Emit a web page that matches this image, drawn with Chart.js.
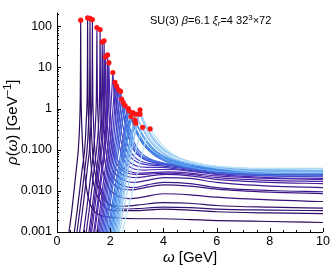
<!DOCTYPE html>
<html>
<head>
<meta charset="utf-8">
<script src="https://cdn.jsdelivr.net/npm/chart.js@4.4.1/dist/chart.umd.min.js"></script>
<style>
  html, body { margin: 0; padding: 0; background: #fff; }
  #wrap { width: 332px; height: 271px; }
</style>
</head>
<body>
<div id="wrap"><canvas id="grafico" width="332" height="271"></canvas></div>
<script>
// posição e altura dos picos (pontos vermelhos)
const peakOmega = [0.89, 1.15, 1.24, 1.33, 1.50, 1.62, 1.70, 1.77, 1.82, 1.90,
  1.95, 2.10, 2.18, 2.24, 2.31, 2.39, 2.43, 2.49, 2.56, 2.68,
  2.71, 2.78, 2.85, 2.93, 2.96, 2.97, 3.12, 3.12, 3.22, 3.50];
const peakRho = [140, 160, 155, 145, 93, 83, 41, 44, 18, 20,
  13, 7.5, 4.3, 3.5, 2.9, 2.6, 1.7, 1.4, 1.17, 1.0,
  0.87, 0.64, 0.79, 0.52, 0.44, 0.73, 0.73, 0.93, 0.35, 0.32];

// lado esquerdo de cada curva (antes do pico), pares [omega, rho]
const leftSides = [
  [[.45,.001],[.55,.003],[.64,.01],[.73,.035],[.8,.1],[.85,.4],[.875,2],[.885,15]],
  [[.65,.001],[.75,.003],[.85,.01],[.95,.035],[1.05,.12],[1.1,.5],[1.135,2.5],[1.145,18]],
  [[.75,.001],[.85,.003],[.95,.01],[1.05,.035],[1.14,.12],[1.19,.5],[1.225,2.5],[1.235,18]],
  [[.85,.001],[.95,.003],[1.05,.01],[1.14,.035],[1.23,.12],[1.28,.5],[1.315,2.5],[1.325,18]],
  [[1,.001],[1.1,.003],[1.2,.01],[1.3,.035],[1.39,.12],[1.45,.5],[1.482,2.5],[1.493,15]],
  [[1.1,.001],[1.2,.003],[1.3,.01],[1.4,.035],[1.5,.12],[1.57,.5],[1.602,2.5],[1.613,14]],
  [[1.2,.001],[1.3,.003],[1.4,.01],[1.5,.035],[1.58,.12],[1.65,.5],[1.68,2.5],[1.692,10]],
  [[1.25,.001],[1.35,.003],[1.45,.01],[1.55,.035],[1.65,.13],[1.72,.55],[1.75,2.7],[1.762,11]],
  [[1.3,.001],[1.4,.003],[1.5,.01],[1.6,.035],[1.7,.13],[1.77,.6],[1.8,3],[1.812,9]],
  [[1.38,.001],[1.48,.003],[1.58,.01],[1.68,.035],[1.78,.13],[1.85,.6],[1.88,3],[1.892,9.5]],
  [[1.42,.001],[1.52,.003],[1.62,.01],[1.72,.035],[1.82,.13],[1.89,.6],[1.925,2.8],[1.94,7]],
  [[1.5,.001],[1.6,.003],[1.7,.01],[1.8,.03],[1.9,.1],[1.98,.4],[2.04,1.6],[2.08,4.5]],
  [[1.55,.001],[1.65,.003],[1.75,.009],[1.85,.027],[1.95,.08],[2.04,.3],[2.11,1.1],[2.16,3]],
  [[1.6,.001],[1.7,.003],[1.8,.009],[1.9,.026],[2,.075],[2.1,.28],[2.17,1],[2.22,2.6]],
  [[1.65,.001],[1.75,.003],[1.85,.009],[1.95,.025],[2.05,.07],[2.15,.24],[2.23,.9],[2.29,2.2]],
  [[1.7,.001],[1.8,.003],[1.9,.009],[2,.024],[2.1,.065],[2.2,.2],[2.3,.8],[2.37,2]],
  [[1.75,.001],[1.85,.003],[1.95,.008],[2.05,.022],[2.15,.06],[2.25,.18],[2.34,.6],[2.41,1.35]],
  [[1.8,.001],[1.9,.003],[2,.008],[2.1,.021],[2.2,.055],[2.3,.16],[2.4,.55],[2.47,1.15]],
  [[1.85,.001],[1.95,.003],[2.05,.008],[2.15,.02],[2.25,.05],[2.35,.14],[2.45,.45],[2.53,.95]],
  [[1.9,.001],[2,.0025],[2.1,.006],[2.2,.015],[2.3,.035],[2.4,.085],[2.5,.22],[2.6,.55]],
  [[1.95,.001],[2.05,.0025],[2.15,.006],[2.25,.014],[2.35,.033],[2.45,.08],[2.55,.2],[2.64,.5]],
  [[2,.001],[2.1,.0025],[2.2,.006],[2.3,.014],[2.4,.032],[2.5,.075],[2.6,.17],[2.7,.4]],
  [[2.05,.001],[2.15,.0025],[2.25,.006],[2.35,.014],[2.45,.032],[2.55,.075],[2.65,.18],[2.76,.45]],
  [[2.1,.001],[2.2,.0024],[2.3,.0055],[2.4,.012],[2.5,.027],[2.6,.06],[2.7,.13],[2.82,.3]],
  [[2.15,.001],[2.25,.0024],[2.35,.0055],[2.45,.012],[2.55,.026],[2.65,.055],[2.75,.12],[2.86,.27]],
  [[2.2,.001],[2.3,.0026],[2.4,.0065],[2.5,.016],[2.6,.038],[2.7,.09],[2.8,.21],[2.89,.45]],
  [[2.25,.001],[2.35,.0025],[2.45,.006],[2.55,.014],[2.65,.032],[2.75,.07],[2.87,.17],[3,.4]],
  [[2.3,.001],[2.4,.0027],[2.5,.007],[2.6,.017],[2.7,.04],[2.8,.09],[2.92,.22],[3.03,.52]],
  [[2.35,.001],[2.45,.0023],[2.55,.005],[2.65,.011],[2.75,.023],[2.85,.047],[2.97,.1],[3.1,.21]],
  [[2.45,.001],[2.6,.0025],[2.75,.006],[2.9,.014],[3.05,.032],[3.18,.07],[3.3,.14],[3.41,.24]]
];

// lado direito de cada curva (depois do pico) até omega = 10
const rightSides = [
  [[.895,15],[.905,2],[.93,.4],[.98,.08],[1.06,.02],[1.2,.006],[1.5,.0028],[2,.0023],[3,.0021],[4,.0021],[5,.002],[6,.0019],[8,.0018],[10,.0017]],
  [[1.155,18],[1.165,2.5],[1.19,.5],[1.24,.1],[1.32,.025],[1.5,.008],[1.8,.004],[2.2,.0033],[3,.0033],[4,.0036],[5,.0034],[6,.0031],[8,.0029],[10,.0028]],
  [[1.245,18],[1.255,2.5],[1.28,.5],[1.33,.1],[1.42,.03],[1.6,.01],[1.9,.005],[2.4,.0042],[3,.0045],[4,.0052],[5,.005],[6,.0044],[8,.004],[10,.0038]],
  [[1.335,18],[1.345,2.5],[1.37,.5],[1.42,.1],[1.5,.03],[1.7,.009],[2,.0045],[2.5,.0036],[3,.0037],[4,.004],[5,.0039],[6,.0036],[8,.0034],[10,.0033]],
  [[1.507,15],[1.518,2.5],[1.55,.5],[1.61,.1],[1.7,.035],[1.9,.013],[2.2,.008],[2.7,.0065],[3.2,.007],[4,.0085],[5,.008],[6,.007],[8,.006],[10,.0055]],
  [[1.627,14],[1.638,2.5],[1.67,.5],[1.73,.12],[1.82,.045],[2,.02],[2.3,.012],[2.8,.0105],[3.3,.012],[4,.014],[5,.013],[6,.011],[8,.0093],[10,.0086]],
  [[1.708,10],[1.72,2.5],[1.75,.6],[1.81,.15],[1.9,.05],[2.05,.025],[2.4,.014],[2.9,.012],[3.4,.014],[4,.016],[5,.015],[6,.012],[8,.0102],[10,.0095]],
  [[1.778,11],[1.79,2.7],[1.82,.65],[1.88,.16],[1.97,.06],[2.1,.032],[2.4,.02],[2.9,.016],[3.4,.018],[4,.021],[5,.02],[6,.016],[8,.013],[10,.012]],
  [[1.828,9],[1.84,3],[1.87,.8],[1.93,.2],[2.02,.075],[2.2,.035],[2.5,.024],[3,.021],[3.5,.023],[4.1,.025],[5,.023],[6,.019],[8,.016],[10,.015]],
  [[1.908,9.5],[1.92,3],[1.95,.8],[2.01,.2],[2.1,.08],[2.3,.04],[2.6,.028],[3.1,.025],[3.6,.026],[4.2,.027],[5,.025],[6,.021],[8,.018],[10,.017]],
  [[1.96,7],[1.975,2.8],[2.01,.8],[2.07,.22],[2.16,.09],[2.35,.045],[2.7,.03],[3.2,.027],[3.7,.028],[4.2,.029],[5,.027],[6,.023],[8,.02],[10,.019]],
  [[2.12,4.5],[2.16,1.6],[2.22,.5],[2.3,.18],[2.42,.08],[2.6,.045],[2.9,.034],[3.3,.032],[3.8,.033],[4.3,.033],[5,.03],[6,.025],[8,.021],[10,.02]],
  [[2.2,3],[2.25,1.1],[2.32,.4],[2.4,.17],[2.52,.085],[2.7,.052],[3,.04],[3.4,.037],[3.9,.037],[4.5,.034],[5.2,.03],[6,.026],[8,.023],[10,.022]],
  [[2.26,2.6],[2.31,1],[2.38,.42],[2.47,.19],[2.6,.1],[2.8,.062],[3.1,.047],[3.5,.042],[4,.04],[4.6,.036],[5.3,.031],[6.2,.027],[8,.025],[10,.024]],
  [[2.33,2.2],[2.39,.9],[2.47,.4],[2.57,.2],[2.7,.11],[2.9,.068],[3.2,.051],[3.6,.045],[4.1,.042],[4.7,.037],[5.4,.032],[6.4,.027],[8,.026],[10,.025]],
  [[2.41,2],[2.47,.88],[2.56,.42],[2.67,.22],[2.8,.125],[3,.078],[3.3,.057],[3.7,.048],[4.2,.044],[4.8,.039],[5.5,.034],[6.5,.029],[8,.028],[10,.028]],
  [[2.45,1.35],[2.52,.65],[2.62,.32],[2.74,.17],[2.9,.1],[3.1,.07],[3.4,.055],[3.8,.047],[4.3,.043],[5,.038],[5.8,.032],[7,.027],[8.5,.026],[10,.026]],
  [[2.51,1.15],[2.58,.6],[2.68,.31],[2.8,.17],[2.95,.105],[3.15,.073],[3.5,.056],[4,.047],[4.6,.041],[5.3,.036],[6.2,.032],[7.5,.03],[8.5,.03],[10,.03]],
  [[2.59,.95],[2.66,.55],[2.76,.29],[2.88,.16],[3.05,.1],[3.3,.07],[3.6,.056],[4,.047],[4.6,.039],[5.3,.032],[6.2,.027],[7.5,.024],[8.5,.023],[10,.023]],
  [[2.76,.65],[2.86,.42],[2.98,.27],[3.15,.17],[3.4,.11],[3.7,.075],[4.1,.055],[4.7,.043],[5.4,.037],[6.2,.033],[7.2,.031],[8.5,.031],[10,.031]],
  [[2.79,.56],[2.9,.36],[3.02,.23],[3.2,.145],[3.45,.095],[3.75,.066],[4.15,.05],[4.7,.04],[5.4,.034],[6.2,.03],[7.2,.028],[8.5,.027],[10,.027]],
  [[2.87,.45],[2.98,.31],[3.12,.21],[3.3,.14],[3.55,.095],[3.85,.07],[4.25,.054],[4.8,.044],[5.5,.038],[6.3,.035],[7.3,.033],[8.6,.033],[10,.033]],
  [[2.94,.52],[3.05,.35],[3.19,.23],[3.38,.15],[3.62,.1],[3.92,.072],[4.3,.055],[4.9,.043],[5.6,.036],[6.4,.032],[7.4,.03],[8.6,.029],[10,.029]],
  [[3.03,.38],[3.15,.28],[3.3,.19],[3.5,.13],[3.75,.09],[4.05,.068],[4.45,.054],[5,.045],[5.7,.039],[6.5,.036],[7.5,.034],[8.7,.034],[10,.034]],
  [[3.06,.33],[3.18,.24],[3.33,.165],[3.53,.11],[3.78,.078],[4.08,.058],[4.5,.046],[5.05,.038],[5.7,.032],[6.5,.029],[7.5,.027],[8.7,.026],[10,.026]],
  [[3.07,.5],[3.19,.35],[3.34,.23],[3.54,.15],[3.8,.1],[4.1,.072],[4.5,.056],[5.1,.045],[5.8,.037],[6.6,.033],[7.6,.03],[8.7,.03],[10,.03]],
  [[3.22,.5],[3.34,.35],[3.5,.23],[3.7,.155],[3.95,.105],[4.25,.077],[4.65,.06],[5.2,.048],[5.9,.04],[6.7,.035],[7.7,.032],[8.8,.032],[10,.032]],
  [[3.22,.6],[3.34,.4],[3.5,.26],[3.7,.17],[3.95,.112],[4.25,.08],[4.65,.06],[5.2,.046],[5.9,.037],[6.7,.032],[7.7,.029],[8.8,.028],[10,.028]],
  [[3.34,.27],[3.48,.2],[3.65,.145],[3.85,.105],[4.1,.078],[4.4,.062],[4.8,.051],[5.3,.044],[6,.039],[6.8,.036],[7.8,.035],[8.9,.035],[10,.035]],
  [[3.62,.25],[3.76,.185],[3.93,.135],[4.13,.1],[4.38,.076],[4.7,.06],[5.1,.05],[5.6,.043],[6.3,.038],[7.2,.035],[8.5,.034],[10,.033]]
];

const xTicks = [0, 2, 4, 6, 8, 10];
const yTicks = [0.001, 0.01, 0.1, 1, 10, 100];
const yTickLabels = ['0.001', '0.010', '0.100', '1', '10', '100'];

const FONTE = '"Liberation Sans", Arial, sans-serif';

// degradê roxo escuro -> azul claro
const paradas = [
  [0.00, [42, 10, 94]],
  [0.35, [76, 34, 170]],
  [0.55, [64, 84, 214]],
  [0.75, [62, 138, 232]],
  [1.00, [186, 226, 248]]
];
function corDaCurva(t) {
  for (let k = 1; k < paradas.length; k++) {
    if (t <= paradas[k][0]) {
      const [t0, c0] = paradas[k - 1];
      const [t1, c1] = paradas[k];
      const f = (t - t0) / (t1 - t0);
      const c = c0.map((v, j) => Math.round(v + (c1[j] - v) * f));
      return `rgb(${c[0]},${c[1]},${c[2]})`;
    }
  }
  return 'rgb(186,226,248)';
}

// desenha um texto com trechos em itálico / sobrescrito / subscrito
function textoRico(ctx, partes, x, y, tam, alinhamento) {
  const fonteDe = p => `${p.it ? 'italic ' : ''}${p.sup || p.sub ? Math.round(tam * 0.7) : tam}px ${FONTE}`;
  let largura = 0;
  partes.forEach(p => { ctx.font = fonteDe(p); largura += ctx.measureText(p.t).width; });
  let cx = alinhamento === 'center' ? x - largura / 2 : x;
  ctx.textAlign = 'left';
  ctx.textBaseline = 'alphabetic';
  partes.forEach(p => {
    ctx.font = fonteDe(p);
    const dy = p.sup ? -tam * 0.38 : (p.sub ? tam * 0.22 : 0);
    ctx.fillText(p.t, cx, y + dy);
    cx += ctx.measureText(p.t).width;
  });
}

// eixos, marcas internas e textos
const moldura = {
  id: 'moldura',
  afterDatasetsDraw(chart) {
    const { ctx, chartArea: a, scales } = chart;
    const sx = scales.x, sy = scales.y;
    ctx.save();
    ctx.strokeStyle = '#000';
    ctx.lineWidth = 1;
    ctx.beginPath();
    ctx.moveTo(a.left + 0.5, a.top);
    ctx.lineTo(a.left + 0.5, a.bottom + 0.5);
    ctx.lineTo(a.right, a.bottom + 0.5);
    ctx.stroke();

    ctx.beginPath();
    for (let v = 0; v <= 10.001; v += 0.5) {
      const px = Math.round(sx.getPixelForValue(v)) + 0.5;
      const len = Math.abs(v % 2) < 1e-6 ? 4 : 2;
      ctx.moveTo(px, a.bottom);
      ctx.lineTo(px, a.bottom - len);
    }
    for (let e = -3; e <= 2; e++) {
      for (let m = 1; m <= 9; m++) {
        const v = m * Math.pow(10, e);
        if (v > sy.max) continue;
        const py = Math.round(sy.getPixelForValue(v)) + 0.5;
        const len = m === 1 ? 4 : 2;
        ctx.moveTo(a.left, py);
        ctx.lineTo(a.left + len, py);
      }
    }
    ctx.stroke();

    ctx.fillStyle = '#000';
    textoRico(ctx, [{ t: 'ω', it: true }, { t: ' [GeV]' }], (a.left + a.right) / 2, 262, 15, 'center');

    ctx.save();
    ctx.translate(17, (a.top + a.bottom) / 2);
    ctx.rotate(-Math.PI / 2);
    textoRico(ctx, [{ t: 'ρ', it: true }, { t: '(' }, { t: 'ω', it: true }, { t: ') [GeV' }, { t: '−1', sup: true }, { t: ']' }], 0, 0, 15, 'center');
    ctx.restore();

    textoRico(ctx, [
      { t: 'SU(3) ' }, { t: 'β', it: true }, { t: '=6.1 ' }, { t: 'ξ', it: true }, { t: 'r', it: true, sub: true },
      { t: '=4 32' }, { t: '3', sup: true }, { t: '×72' }
    ], 150, 24, 11, 'left');
    ctx.restore();
  }
};

const datasets = peakOmega.map((m, i) => {
  const pontos = leftSides[i].concat([[m, peakRho[i]]], rightSides[i]);
  return {
    data: pontos.map(p => ({ x: p[0], y: p[1] })),
    borderColor: corDaCurva(i / (peakOmega.length - 1)),
    borderWidth: 1.2,
    pointRadius: 0,
    fill: false,
    cubicInterpolationMode: 'monotone',
    order: peakOmega.length - i
  };
});

// pontos vermelhos nos picos
datasets.push({
  data: peakOmega.map((m, i) => ({ x: m, y: peakRho[i] })),
  showLine: false,
  pointRadius: 2.6,
  pointBackgroundColor: '#ff1414',
  pointBorderWidth: 0,
  order: -1
});

new Chart(document.getElementById('grafico'), {
  type: 'line',
  data: { datasets },
  options: {
    responsive: false,
    animation: false,
    layout: { padding: { top: 4, right: 8, left: 0, bottom: 0 } },
    plugins: { legend: { display: false }, tooltip: { enabled: false } },
    scales: {
      x: {
        type: 'linear',
        min: 0,
        max: 10,
        afterBuildTicks: s => { s.ticks = xTicks.map(v => ({ value: v })); },
        afterFit: s => { s.height = 39; },
        grid: { display: false, drawTicks: false },
        border: { display: false },
        ticks: { color: '#000', font: { size: 12.5, family: FONTE }, padding: 2, maxRotation: 0, autoSkip: false }
      },
      y: {
        type: 'logarithmic',
        min: 0.001,
        max: 215,
        afterBuildTicks: s => { s.ticks = yTicks.map(v => ({ value: v })); },
        afterFit: s => { s.width = 57; },
        grid: { display: false, drawTicks: false },
        border: { display: false },
        ticks: {
          color: '#000',
          font: { size: 12.5, family: FONTE },
          padding: 5,
          autoSkip: false,
          callback: v => yTickLabels[yTicks.indexOf(v)]
        }
      }
    }
  },
  plugins: [moldura]
});
</script>
</body>
</html>
